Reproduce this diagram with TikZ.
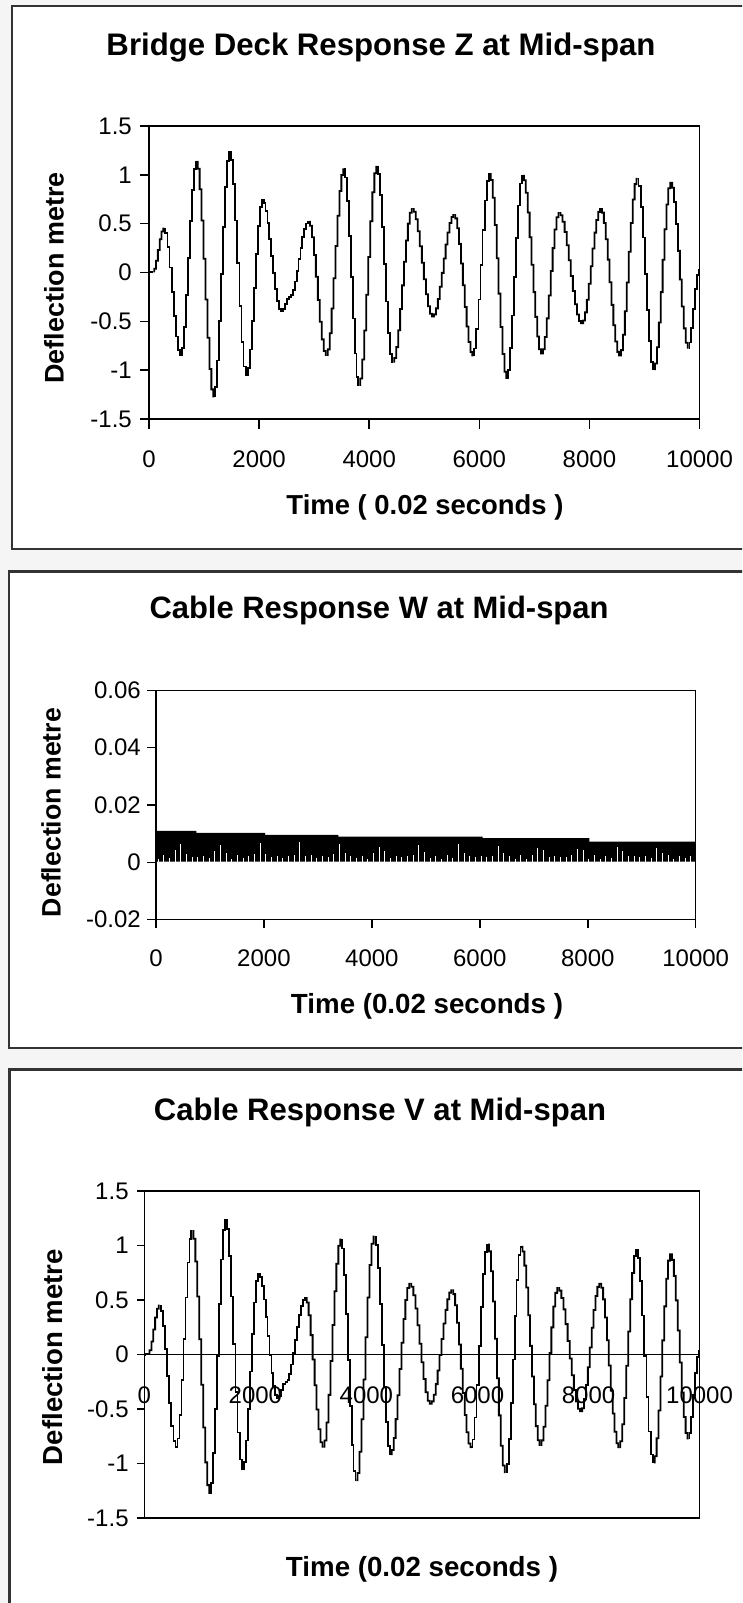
\documentclass[tikz,border=0pt]{standalone}
\usepackage{fontspec}
\setmainfont{Liberation Sans}
\usepackage{graphicx}

\tikzset{
  panelbox/.style={draw=black!80, line width=2.2pt, fill=white},
  plotframe/.style={draw=black, line width=1.5pt},
  tickmark/.style={draw=black, line width=1.5pt},
  wave/.style={draw=black, line width=1.8pt, line join=miter, line cap=butt},
  ticklab/.style={font=\fontsize{24}{24}\selectfont, text=black, inner sep=0pt},
  titlelab/.style={font=\bfseries, text=black, inner sep=0pt, anchor=base},
  axislab/.style={font=\bfseries, text=black, inner sep=0pt},
}

% deflection history: start/value/end/value of each half-swing
\newcommand\wavesegs{0/0/78/0.01, 78/0.01/278/0.45, 278/0.45/581/-0.845,
  581/-0.845/866/1.135, 866/1.135/1186/-1.27, 1186/-1.27/1471/1.24,
  1471/1.24/1775/-1.05, 1775/-1.05/2065/0.74, 2065/0.74/2410/-0.40,
  2410/-0.40/2561/-0.25, 2561/-0.25/2906/0.52, 2906/0.52/3228/-0.845,
  3228/-0.845/3548/1.057, 3548/1.057/3820/-1.153, 3820/-1.153/4148/1.084,
  4148/1.084/4438/-0.914, 4438/-0.914/4790/0.65, 4790/0.65/5159/-0.45,
  5159/-0.45/5546/0.59, 5546/0.59/5890/-0.85, 5890/-0.85/6191/1.01,
  6191/1.01/6509/-1.08, 6509/-1.08/6793/0.99, 6793/0.99/7137/-0.83,
  7137/-0.83/7455/0.61, 7455/0.61/7868/-0.52, 7868/-0.52/8211/0.65,
  8211/0.65/8555/-0.85, 8555/-0.85/8874/0.96, 8874/0.96/9175/-0.99,
  9175/-0.99/9484/0.92, 9484/0.92/9802/-0.77, 9802/-0.77/10000/0.03}

% half-cosine blend inside the current half-swing
\newcommand\wv[1]{(\va)+((\vb)-(\va))*(1-cos(((((#1)-(\ta))/((\tb)-(\ta))))*180))/2}

% stepped trace through all half-swings
\newcommand\drawwave{%
  \foreach \ta/\va/\tb/\vb in \wavesegs {
    \pgfmathtruncatemacro{\nn}{max(2,round(((\tb)-(\ta))/36))}
    \pgfmathsetmacro{\dt}{((\tb)-(\ta))/\nn}
    \draw[wave] (\ta,\va)
      \foreach \j in {1,...,\nn} {
        -- ({\ta+(\j-0.5)*\dt},{\wv{\ta+(\j-1)*\dt}})
        -- ({\ta+(\j-0.5)*\dt},{\wv{\ta+\j*\dt}})
      } -- (\tb,\vb);
  }}

\begin{document}
\begin{tikzpicture}[x=1pt,y=-1pt]
\useasboundingbox (0,0) rectangle (742,1603);
\clip (0,0) rectangle (742,1603);
\fill[gray!8] (0,0) rectangle (742,1603);

% chart panels
\draw[panelbox] (12,6) rectangle (760,549);
\draw[panelbox] (9,571.5) rectangle (760,1048);
\draw[panelbox] (9.5,1069.5) rectangle (760,1640);

% ---------- deck response Z ----------
\node[titlelab] (title1) at (381,56)
  {\resizebox{549pt}{!}{\fontsize{30}{30}\selectfont Bridge Deck Response Z at Mid-span}};
\node[axislab, rotate=90] (ylab1) at (54,278)
  {\resizebox{211pt}{!}{\fontsize{27}{27}\selectfont Deflection metre}};
\node[titlelab] (xlab1) at (425,514)
  {\resizebox{277pt}{!}{\fontsize{27}{27}\selectfont Time ( 0.02 seconds )}};
\begin{scope}[shift={(149,272.5)}, x=0.05505pt, y=97.6pt]
  \draw[plotframe] (0,-1.5) rectangle (10000,1.5);
  \foreach \v [count=\i] in {1.5,1,0.5,0,-0.5,-1,-1.5} {
    \draw[tickmark] (0,\v) -- ++(-9pt,0pt);
    \node[ticklab, anchor=east, xshift=-17pt] (ay1\i) at (0,\v) {\v};
  }
  \foreach \t [count=\i] in {0,2000,...,10000} {
    \draw[tickmark] (\t,-1.5) -- ++(0pt,-10pt);
    \node[ticklab, yshift=-40pt] (ax1\i) at (\t,-1.5) {\t};
  }
  \drawwave
\end{scope}

% ---------- cable response W ----------
\node[titlelab] (title2) at (379,618)
  {\resizebox{459pt}{!}{\fontsize{30}{30}\selectfont Cable Response W at Mid-span}};
\node[axislab, rotate=90] (ylab2) at (51,812.5)
  {\resizebox{209pt}{!}{\fontsize{27}{27}\selectfont Deflection metre}};
\node[titlelab] (xlab2) at (427,1013)
  {\resizebox{272pt}{!}{\fontsize{27}{27}\selectfont Time (0.02 seconds )}};
\begin{scope}[shift={(156,862.3)}, x=0.05397pt, y=28.67pt]
  % dense oscillation band (values in hundredths of a metre)
  \fill[black] (0,0.02) -- (0,1.10) -- (750,1.10) -- (750,1.03) -- (2020,1.03)
    -- (2020,0.96) -- (3380,0.96) -- (3380,0.90) -- (6050,0.90) -- (6050,0.84)
    -- (8030,0.84) -- (8030,0.72) -- (10000,0.72) -- (10000,0.02) -- cycle;
  \foreach \k in {0,...,94} {
    \pgfmathsetmacro\tk{40+105*\k}
    \pgfmathsetmacro\hh{0.1+0.5*(1-0.35*\tk/10000)*pow(max(0,cos(((\tk-445)/740)*360)),3)+0.14*abs(sin(\k*97))}
    \draw[white, line width=1.2pt] (\tk,0.02) -- (\tk,\hh);
  }
  \foreach \k in {0,...,30} {
    \pgfmathsetmacro\tk{130+323*\k}
    \draw[white, line width=1pt] (\tk,1.2) -- ++(0pt,-2.5pt);
  }
  \draw[plotframe] (0,-2) rectangle (10000,6);
  \foreach \v/\lab [count=\i] in {6/0.06,4/0.04,2/0.02,0/0,-2/-0.02} {
    \draw[tickmark] (0,\v) -- ++(-9pt,0pt);
    \node[ticklab, anchor=east, xshift=-15pt] (ay2\i) at (0,\v) {\lab};
  }
  \foreach \t [count=\i] in {0,2000,...,10000} {
    \draw[tickmark] (\t,-2) -- ++(0pt,-8pt);
    \node[ticklab, yshift=-38.5pt] (ax2\i) at (\t,-2) {\t};
  }
\end{scope}

% ---------- cable response V ----------
\node[titlelab] (title3) at (380,1120.5)
  {\resizebox{452pt}{!}{\fontsize{30}{30}\selectfont Cable Response V at Mid-span}};
\node[axislab, rotate=90] (ylab3) at (53,1357)
  {\resizebox{216pt}{!}{\fontsize{27}{27}\selectfont Deflection metre}};
\node[titlelab] (xlab3) at (422,1576)
  {\resizebox{272pt}{!}{\fontsize{27}{27}\selectfont Time (0.02 seconds )}};
\begin{scope}[shift={(144.3,1354.6)}, x=0.05552pt, y=109pt]
  \draw[plotframe] (0,-1.5) rectangle (10000,1.5);
  \foreach \v [count=\i] in {1.5,1,0.5,0,-0.5,-1,-1.5} {
    \draw[tickmark] (0,\v) -- ++(-7pt,0pt);
    \node[ticklab, anchor=east, xshift=-15.5pt] (ay3\i) at (0,\v) {\v};
  }
  \foreach \t [count=\i] in {0,2000,...,10000} {
    \node[ticklab, yshift=-41pt] (ax3\i) at (\t,0) {\t};
  }
  \draw[plotframe] (0,0) -- (10000,0);
  \drawwave
\end{scope}
\end{tikzpicture}
\end{document}
